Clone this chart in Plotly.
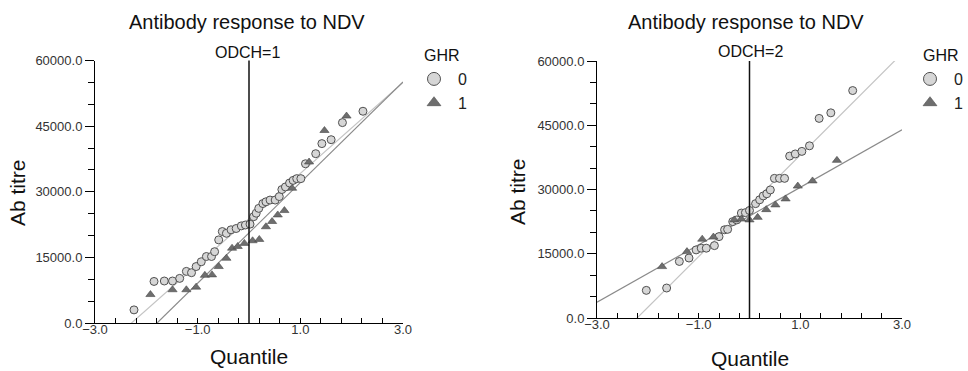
import plotly.graph_objects as go

# ---------------- data ----------------
# ODCH = 1, GHR = 0 (circles)
q1_g0 = [-2.24, -1.85, -1.65, -1.49, -1.35, -1.22, -1.12, -1.03, -0.93, -0.83,
         -0.73, -0.67, -0.59, -0.52, -0.44, -0.35, -0.25, -0.15, -0.07, 0.02,
         0.09, 0.14, 0.19, 0.27, 0.33, 0.41, 0.51, 0.59, 0.64, 0.71,
         0.79, 0.86, 0.93, 1.01, 1.10, 1.30, 1.42, 1.60, 1.82, 2.22]
t1_g0 = [3000, 9500, 9600, 9600, 10200, 11800, 11500, 12900, 14000, 15200,
         15200, 16300, 19000, 20900, 20500, 21300, 21600, 22200, 22400, 22600,
         24300, 25100, 26200, 27300, 27700, 28100, 28100, 28900, 30500, 31100,
         32000, 32600, 33000, 33000, 36400, 38700, 41000, 41900, 45800, 48400]
# ODCH = 1, GHR = 1 (triangles)
q1_g1 = [-1.92, -1.49, -1.22, -1.03, -0.86, -0.72, -0.59, -0.44, -0.33, -0.22,
         -0.09, 0.07, 0.20, 0.33, 0.45, 0.56, 0.69, 0.84, 1.17, 1.47, 1.90]
t1_g1 = [6500, 7600, 7600, 8200, 10900, 11000, 12900, 14800, 17100, 17500,
         18200, 18800, 19100, 22000, 23200, 24700, 25700, 30800, 36800, 44000, 47300]
# ODCH = 2, GHR = 0 (circles)
q2_g0 = [-2.03, -1.63, -1.38, -1.19, -1.05, -0.95, -0.85, -0.69, -0.60, -0.49,
         -0.43, -0.33, -0.25, -0.16, -0.08, 0.00, 0.12, 0.20, 0.27, 0.34,
         0.41, 0.49, 0.59, 0.69, 0.79, 0.90, 1.03, 1.18, 1.37, 1.60, 2.03]
t2_g0 = [6450, 7000, 13200, 14000, 15900, 16300, 16300, 16900, 19000, 20600,
         20700, 22500, 22900, 24500, 24600, 25100, 26700, 27600, 28500, 29000,
         29900, 32600, 32600, 32600, 37800, 38300, 38900, 40200, 46600, 47900, 53100]
# ODCH = 2, GHR = 1 (triangles)
q2_g1 = [-1.72, -1.23, -0.93, -0.71, -0.30, -0.16, 0.00, 0.16, 0.33, 0.51,
         0.71, 0.95, 1.24, 1.72]
t2_g1 = [12000, 15500, 18400, 18900, 22900, 23100, 22900, 23500, 25300, 26400,
         27800, 30800, 32000, 36800]

# fitted reference lines: intercept, slope (per panel, per group)
fit_int_1 = {"0": 23800, "1": 20600}
fit_slope_1 = {"0": 10400, "1": 11500}
fit_int_2 = {"0": 26200, "1": 23800}
fit_slope_2 = {"0": 11850, "1": 6710}

panel_labels = ["ODCH=1", "ODCH=2"]
group_labels = ["0", "1"]
x_range = [-3, 3]
y_range = [0, 60000]

# ---------------- styling ----------------
FONT = "Liberation Sans, Arial, sans-serif"
circle_style = dict(symbol="circle", size=8, color="#d6d6d6",
                    line=dict(color="#505050", width=1))
tri_style = dict(symbol="triangle-up", size=8, color="#6e6e6e",
                 line=dict(color="#4a4a4a", width=0.6))
line_col = {"0": "#c4c4c4", "1": "#8a8a8a"}

fig = go.Figure()

panels = [
    ("x", "y", "legend", q1_g0, t1_g0, q1_g1, t1_g1, fit_int_1, fit_slope_1),
    ("x2", "y2", "legend2", q2_g0, t2_g0, q2_g1, t2_g1, fit_int_2, fit_slope_2),
]

for xa, ya, leg, qa, ta, qb, tb, fi, fs in panels:
    for g in group_labels:
        xs = [x_range[0], x_range[1]]
        ys = [fi[g] + fs[g] * v for v in xs]
        fig.add_trace(go.Scatter(x=xs, y=ys, mode="lines", xaxis=xa, yaxis=ya,
                                 line=dict(color=line_col[g], width=1.2),
                                 showlegend=False, hoverinfo="skip"))
    fig.add_trace(go.Scatter(x=qa, y=ta, mode="markers", xaxis=xa, yaxis=ya,
                             marker=circle_style, showlegend=False))
    fig.add_trace(go.Scatter(x=qb, y=tb, mode="markers", xaxis=xa, yaxis=ya,
                             marker=tri_style, showlegend=False))
    fig.add_trace(go.Scatter(x=[None], y=[None], mode="markers", xaxis=xa, yaxis=ya,
                             name=group_labels[0], legend=leg,
                             marker=dict(circle_style, size=13)))
    fig.add_trace(go.Scatter(x=[None], y=[None], mode="markers", xaxis=xa, yaxis=ya,
                             name=group_labels[1], legend=leg,
                             marker=dict(tri_style, size=12)))

W, H = 968, 371
def px(x):
    return x / W
def py(y):
    return 1 - y / H

xaxis_common = dict(range=x_range, showgrid=False, zeroline=False, showline=True,
                    linecolor="black", linewidth=1, ticks="inside", ticklen=5,
                    tickcolor="black", tick0=-3, dtick=2, tickformat=".1f",
                    tickfont=dict(family=FONT, size=13, color="#333"),
                    ticklabelstandoff=-6,
                    minor=dict(tick0=-3, dtick=0.4, ticks="inside", ticklen=5,
                               tickcolor="black", tickwidth=1),
                    automargin=False, fixedrange=True)
yaxis_common = dict(range=y_range, showgrid=False, zeroline=False, showline=True,
                    linecolor="black", linewidth=1, ticks="outside", ticklen=9,
                    tickcolor="black", tick0=0, dtick=15000, tickformat=".1f",
                    tickfont=dict(family=FONT, size=13, color="#333"),
                    minor=dict(tick0=0, dtick=5000, ticks="outside", ticklen=6,
                               tickcolor="black", tickwidth=1),
                    automargin=False, fixedrange=True)

fig.update_layout(
    width=W, height=H, margin=dict(l=0, r=0, t=0, b=0, autoexpand=False),
    paper_bgcolor="white", plot_bgcolor="white",
    font=dict(family=FONT, color="black"),
    xaxis=dict(xaxis_common, domain=[px(95), px(403)], anchor="y"),
    yaxis=dict(yaxis_common, domain=[py(323), py(60.5)], anchor="x"),
    xaxis2=dict(xaxis_common, domain=[px(597), px(902)], anchor="y2"),
    yaxis2=dict(yaxis_common, domain=[py(318), py(61)], anchor="x2"),
    legend=dict(x=px(410), y=py(62), xanchor="left", yanchor="top",
                font=dict(family=FONT, size=16, color="#222"),
                bgcolor="rgba(0,0,0,0)", itemwidth=38, tracegroupgap=0),
    legend2=dict(x=px(906), y=py(62), xanchor="left", yanchor="top",
                 font=dict(family=FONT, size=16, color="#222"),
                 bgcolor="rgba(0,0,0,0)", itemwidth=38, tracegroupgap=0),
    showlegend=True,
)

for xr, yr in [("x", "y domain"), ("x2", "y2 domain")]:
    fig.add_shape(type="line", xref=xr, yref=yr, x0=0, x1=0, y0=0, y1=1,
                  line=dict(color="#111", width=1.5))

ann = []
def add_text(text, x, y, size, angle=0, xanchor="center", color="#111"):
    ann.append(dict(text=text, x=px(x), y=py(y), xref="paper", yref="paper",
                    showarrow=False, xanchor=xanchor, yanchor="middle",
                    textangle=angle, font=dict(family=FONT, size=size, color=color)))

add_text("Antibody response to NDV", 247, 22, 20)
add_text("Antibody response to NDV", 746, 22, 20)
add_text(panel_labels[0], 248, 52, 16)
add_text(panel_labels[1], 750, 51, 16)
add_text("Quantile", 249, 356, 21)
add_text("Quantile", 750, 358, 21)
add_text("Ab titre", 17, 193, 21, angle=-90)
add_text("Ab titre", 517, 192, 21, angle=-90)
add_text("GHR", 422, 56, 16, xanchor="left")
add_text("GHR", 921, 56, 16, xanchor="left")
fig.update_layout(annotations=ann)

fig.write_html("out.html")
